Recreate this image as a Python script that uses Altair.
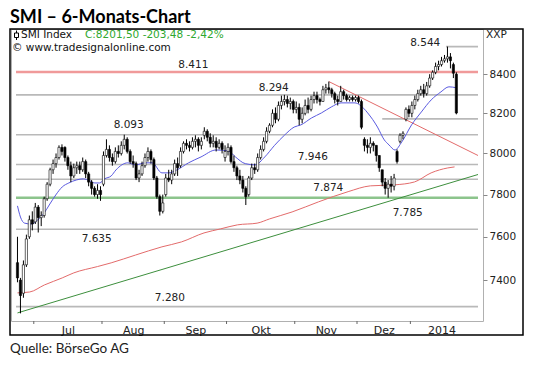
import altair as alt
import pandas as pd

# ---------------- data (daily bars, trading-day index 0 = 21 Jun 2013) ----------------
opens = [7480, 7400, 7340, 7470, 7600, 7680, 7670, 7740, 7690, 7700,
         7780, 7850, 7920, 7950, 7980, 8030, 8030, 7980, 7940, 7890,
         7930, 7940, 7920, 7960, 7900, 7860, 7830, 7800, 7820, 7850,
         7990, 8020, 7980, 7960, 8010, 8000, 8040, 8070, 8010, 7960,
         7950, 7880, 7900, 7940, 7980, 8010, 7970, 7880, 7790, 7720,
         7800, 7880, 7870, 7900, 7950, 7940, 8010, 8050, 8040, 8030,
         8060, 8070, 8040, 8090, 8110, 8080, 8050, 8060, 8030, 8050,
         7980, 8010, 8030, 7960, 7930, 7890, 7870, 7830, 7800, 7880,
         7930, 7920, 7980, 8020, 8060, 8110, 8140, 8200, 8170, 8240,
         8260, 8270, 8250, 8260, 8220, 8230, 8170, 8200, 8240, 8220,
         8270, 8290, 8270, 8260, 8320, 8330, 8320, 8300, 8270, 8260,
         8310, 8290, 8270, 8280, 8270, 8280, 8260, 8070, 8040, 8030,
         8050, 8040, 7990, 7920, 7860, 7830, 7850, 7840, 8010, 8060,
         8090, 8170, 8220, 8200, 8240, 8270, 8300, 8320, 8300, 8340,
         8380, 8410, 8440, 8450, 8470, 8480, 8490, 8450, 8400]
highs = [7600, 7410, 7490, 7610, 7700, 7720, 7760, 7750, 7720, 7790,
         7860, 7930, 7970, 8000, 8040, 8045, 8035, 7990, 7960, 7950,
         7960, 7960, 7980, 7970, 7910, 7870, 7840, 7850, 7840, 8010,
         8070, 8040, 8000, 8030, 8040, 8060, 8093, 8080, 8020, 7990,
         7960, 7920, 7960, 8000, 8030, 8020, 7980, 7890, 7800, 7800,
         7900, 7920, 7920, 7970, 7980, 8030, 8060, 8070, 8060, 8080,
         8090, 8080, 8080, 8130, 8120, 8100, 8090, 8080, 8070, 8060,
         8040, 8050, 8040, 7990, 7940, 7920, 7890, 7840, 7890, 7950,
         7950, 8000, 8040, 8080, 8130, 8150, 8220, 8230, 8260, 8290,
         8294, 8290, 8280, 8270, 8260, 8250, 8230, 8270, 8280, 8290,
         8310, 8310, 8280, 8340, 8350, 8362, 8330, 8310, 8290, 8340,
         8320, 8300, 8290, 8290, 8290, 8290, 8270, 8080, 8070, 8080,
         8060, 8040, 7990, 7920, 7880, 7870, 7890, 7900, 8020, 8100,
         8110, 8230, 8240, 8260, 8290, 8320, 8340, 8350, 8360, 8400,
         8420, 8460, 8470, 8490, 8500, 8544, 8510, 8460, 8410]
lows = [7390, 7250, 7320, 7460, 7590, 7630, 7660, 7620, 7650, 7690,
        7770, 7840, 7900, 7930, 7970, 7990, 7960, 7920, 7860, 7880,
        7900, 7900, 7910, 7880, 7840, 7800, 7790, 7780, 7770, 7840,
        7980, 7960, 7940, 7950, 7980, 7990, 8020, 8000, 7950, 7930,
        7870, 7860, 7890, 7930, 7960, 7950, 7870, 7780, 7700, 7710,
        7790, 7860, 7850, 7890, 7890, 7930, 8000, 8020, 8010, 8020,
        8030, 8010, 8020, 8070, 8060, 8030, 8030, 8010, 8020, 8000,
        7960, 7990, 7950, 7910, 7870, 7850, 7810, 7750, 7790, 7870,
        7900, 7910, 7970, 8010, 8050, 8100, 8130, 8150, 8160, 8220,
        8240, 8230, 8220, 8200, 8200, 8140, 8150, 8190, 8200, 8210,
        8250, 8250, 8240, 8260, 8300, 8300, 8280, 8250, 8240, 8260,
        8270, 8260, 8260, 8260, 8260, 8250, 8120, 8010, 8000, 8000,
        8010, 7960, 7910, 7840, 7800, 7785, 7810, 7820, 7950, 8050,
        8070, 8160, 8180, 8180, 8220, 8260, 8290, 8280, 8290, 8330,
        8370, 8400, 8420, 8440, 8460, 8460, 8430, 8380, 8195]
closes = [7410, 7330, 7470, 7590, 7680, 7660, 7740, 7690, 7700, 7780,
          7850, 7920, 7950, 7980, 8030, 8010, 7980, 7940, 7890, 7930,
          7940, 7920, 7960, 7900, 7860, 7830, 7800, 7820, 7800, 7990,
          8020, 7980, 7960, 8010, 8000, 8040, 8070, 8010, 7960, 7950,
          7880, 7900, 7940, 7980, 8010, 7970, 7880, 7790, 7720, 7760,
          7880, 7870, 7900, 7950, 7930, 8010, 8050, 8040, 8030, 8060,
          8070, 8040, 8060, 8110, 8080, 8050, 8060, 8030, 8050, 8020,
          8010, 8030, 7960, 7930, 7890, 7870, 7830, 7790, 7880, 7930,
          7920, 7980, 8020, 8060, 8110, 8140, 8200, 8170, 8240, 8260,
          8270, 8250, 8260, 8220, 8230, 8170, 8200, 8240, 8220, 8270,
          8290, 8270, 8260, 8320, 8330, 8320, 8300, 8270, 8260, 8310,
          8290, 8270, 8280, 8270, 8280, 8260, 8130, 8040, 8030, 8050,
          8040, 7990, 7930, 7860, 7830, 7850, 7840, 7880, 7960, 8090,
          8100, 8220, 8200, 8240, 8270, 8300, 8320, 8300, 8340, 8380,
          8410, 8440, 8450, 8470, 8480, 8490, 8470, 8405, 8201.5]

# short moving average (blue)
blue_idx = [0, 1, 2.4, 4.6, 6.8, 9.0, 10.7, 12.9, 15.1, 17.3, 20.0, 22.2, 24.4, 26.1,
            27.7, 29.4, 31.6, 33.2, 37.2, 39.8, 43.1, 45.4, 48.7, 51.1, 53.7, 57.7,
            61.9, 66.9, 71.2, 73.5, 76.8, 80.1, 83.4, 86.7, 90.0, 93.3, 95.6, 99.2,
            102.5, 105.8, 109.1, 113.8, 115.4, 118.1, 121.4, 123.7, 125.3, 127.3,
            129.6, 132.9, 136.2, 139.5, 142.8, 145.5, 148]
blue_val = [7746, 7693, 7664, 7660, 7679, 7712, 7750, 7798, 7837, 7856, 7871, 7876,
            7866, 7856, 7856, 7876, 7890, 7919, 7954, 7944, 7954, 7954, 7905, 7905,
            7919, 7954, 7983, 8017, 8012, 7983, 7950, 7944, 7983, 8040, 8090, 8131,
            8142, 8177, 8202, 8232, 8253, 8253, 8243, 8202, 8131, 8067, 8042, 8017,
            8057, 8142, 8207, 8268, 8309, 8335, 8330]

# long moving average (red)
red_idx = [0, 4.1, 9.1, 15.1, 19.0, 27.0, 31.6, 39.8, 48.7, 55.3, 62.9, 68.5,
           74.2, 80.8, 85.0, 92.6, 101.5, 111.5, 119.0, 127.3, 133.9, 139.5, 145.1, 147.4]
red_val = [7342, 7346, 7378, 7410, 7433, 7462, 7479, 7515, 7553, 7576, 7618, 7637,
           7656, 7664, 7684, 7717, 7765, 7814, 7842, 7847, 7861, 7905, 7929, 7934]

# trend lines
green_trend_idx = [0, 155.3]
green_trend_val = [7252, 7897]
red_trend_idx = [105, 155.3]
red_trend_val = [8362, 7990]

# horizontal levels
level_val = [8544, 8411, 8294, 8172, 8093, 7946, 7874, 7785, 7635, 7280]
level_from = [144.5, -0.5, -0.5, 123, -0.5, -0.5, -0.5, -0.5, -0.5, -0.5]
level_kind = ["gray", "red", "gray", "gray", "gray", "gray", "gray", "green", "gray", "gray"]

# level labels
label_text = ["8.544", "8.411", "8.294", "8.093", "7.946", "7.874", "7.785", "7.635", "7.280"]
label_idx = [137.5, 59.3, 86.4, 37.5, 99.6, 104.8, 131.6, 26.7, 51.4]
label_val = [8563, 8448, 8329, 8142, 7983, 7832, 7712, 7590, 7319]

# axes
month_names = ["Jul", "Aug", "Sep", "Okt", "Nov", "Dez", "2014"]
month_mid = [17, 39, 60, 82, 104, 123.5, 143]
month_edges = [5.5, 28.5, 49.5, 70.5, 93.5, 114.5, 132.5]
y_ticks = [7400, 7600, 7800, 8000, 8200, 8400]

# ---------------- chart ----------------
W, H = 472, 292
XMIN, XMAX = -0.5, 155.3
FONT = "DejaVu Sans"
FS = 10.5

xs = alt.Scale(domain=[XMIN, XMAX], nice=False, zero=False)
ys = alt.Scale(type="log", domain=[7216, 8637], nice=False, zero=False)

label_expr = ""
for m, n in zip(month_mid, month_names):
    label_expr += f"datum.value == {m} ? '{n}' : "
label_expr += "''"

bars = pd.DataFrame({"i": list(range(len(closes))), "o": opens, "h": highs, "l": lows, "c": closes})
levels = pd.DataFrame({"v": level_val, "x0": level_from, "x1": [XMAX] * len(level_val), "k": level_kind})
labels = pd.DataFrame({"t": label_text, "i": label_idx, "v": label_val})
blue = pd.DataFrame({"i": blue_idx, "v": blue_val})
red = pd.DataFrame({"i": red_idx, "v": red_val})
gtr = pd.DataFrame({"i": green_trend_idx, "v": green_trend_val})
rtr = pd.DataFrame({"i": red_trend_idx, "v": red_trend_val})
edges = pd.DataFrame({"e": month_edges})
one = pd.DataFrame({"a": [0]})

x_axis = alt.Axis(values=month_mid, labelExpr=label_expr, ticks=False, domain=False, grid=False,
                  labelPadding=3, labelFont=FONT, labelFontSize=11, labelColor="#222", title=None,
                  labelFlush=False)
y_axis = alt.Axis(orient="right", values=y_ticks, format="d", tickSize=4, tickColor="#888",
                  labelPadding=2, domain=False, grid=False, labelFont=FONT, labelFontSize=FS,
                  labelColor="#222", title=None)

base_levels = alt.Chart(levels)
gray_lv = base_levels.mark_rule(color="#b9b9b9", strokeWidth=1.6).encode(
    x=alt.X("x0:Q", scale=xs, axis=x_axis), x2="x1:Q",
    y=alt.Y("v:Q", scale=ys, axis=y_axis)).transform_filter("datum.k == 'gray'")
red_lv = base_levels.mark_rule(color="#f09a9a", strokeWidth=2.6).encode(
    x=alt.X("x0:Q", scale=xs), x2="x1:Q", y=alt.Y("v:Q", scale=ys)).transform_filter("datum.k == 'red'")
green_lv = base_levels.mark_rule(color="#8cc48c", strokeWidth=2.6).encode(
    x=alt.X("x0:Q", scale=xs), x2="x1:Q", y=alt.Y("v:Q", scale=ys)).transform_filter("datum.k == 'green'")

green_trend = alt.Chart(gtr).mark_line(color="#3d8f3d", strokeWidth=1).encode(
    x=alt.X("i:Q", scale=xs), y=alt.Y("v:Q", scale=ys))
red_trend = alt.Chart(rtr).mark_line(color="#e36b6b", strokeWidth=1).encode(
    x=alt.X("i:Q", scale=xs), y=alt.Y("v:Q", scale=ys))
red_ma = alt.Chart(red).mark_line(color="#e36b6b", strokeWidth=1, interpolate="monotone").encode(
    x=alt.X("i:Q", scale=xs), y=alt.Y("v:Q", scale=ys))
blue_ma = alt.Chart(blue).mark_line(color="#5a5ae0", strokeWidth=1, interpolate="monotone").encode(
    x=alt.X("i:Q", scale=xs), y=alt.Y("v:Q", scale=ys))

wicks = alt.Chart(bars).mark_rule(color="black", strokeWidth=1).encode(
    x=alt.X("i:Q", scale=xs), y=alt.Y("l:Q", scale=ys), y2="h:Q")
bodies = alt.Chart(bars).mark_bar(size=2.2, stroke="black", strokeWidth=0.6).encode(
    x=alt.X("i:Q", scale=xs), y=alt.Y("o:Q", scale=ys), y2="c:Q",
    fill=alt.condition("datum.c < datum.o", alt.value("black"), alt.value("white")))

lbl = alt.Chart(labels).mark_text(font=FONT, fontSize=FS, color="#222", baseline="middle").encode(
    x=alt.X("i:Q", scale=xs), y=alt.Y("v:Q", scale=ys), text="t:N")

mticks = alt.Chart(edges).mark_rule(color="#666", strokeWidth=1).encode(
    x=alt.X("e:Q", scale=xs), y=alt.value(H), y2=alt.value(H + 3))

box = alt.Chart(one).mark_rect(fill="transparent", stroke="black", strokeWidth=1.5).encode(
    x=alt.value(-1), x2=alt.value(W + 40), y=alt.value(0), y2=alt.value(H + 14))

title = alt.Chart(one).mark_text(text="SMI – 6-Monats-Chart", font="Lato", fontWeight="bold",
                                 fontSize=18, align="left", baseline="alphabetic", color="black").encode(
    x=alt.value(-1), y=alt.value(-6))
source = alt.Chart(one).mark_text(text="Quelle: BörseGo AG", font="Lato", fontSize=13.5,
                                  align="left", baseline="middle", color="#222").encode(
    x=alt.value(-1), y=alt.value(H + 28))
unit = alt.Chart(one).mark_text(text="XXP", font=FONT, fontSize=FS, align="left",
                                baseline="middle", color="#222").encode(
    x=alt.value(W + 3), y=alt.value(6))
leg1 = alt.Chart(one).mark_text(text="SMI Index", font=FONT, fontSize=FS, align="left",
                                baseline="middle", color="#111").encode(
    x=alt.value(10), y=alt.value(6))
leg2 = alt.Chart(one).mark_text(text="C:8201,50 -203,48 -2,42%", font=FONT, fontSize=FS, align="left",
                                baseline="middle", color="#2fa82f").encode(
    x=alt.value(74), y=alt.value(6))
leg3 = alt.Chart(one).mark_text(text="© www.tradesignalonline.com", font=FONT, fontSize=FS, align="left",
                                baseline="middle", color="#111").encode(
    x=alt.value(1), y=alt.value(18.5))
icon_line = alt.Chart(one).mark_rule(color="black", strokeWidth=1).encode(
    x=alt.value(5.5), y=alt.value(1.5), y2=alt.value(11))
icon_box = alt.Chart(one).mark_rect(fill="white", stroke="black", strokeWidth=1).encode(
    x=alt.value(3.5), x2=alt.value(7.5), y=alt.value(4), y2=alt.value(8.5))

chart = alt.layer(
    gray_lv, red_lv, green_lv, green_trend, red_trend, red_ma, blue_ma,
    wicks, bodies, lbl, mticks, box, title, source, unit, leg1, leg2, leg3, icon_line, icon_box
).properties(
    width=W, height=H,
    autosize=alt.AutoSizeParams(type="none"),
    padding={"left": 3, "top": 21, "right": 45, "bottom": 40},
).configure_view(stroke="#b0b0b0", strokeWidth=1)

chart.save("out.html", embed_options={"renderer": "svg", "actions": False})
